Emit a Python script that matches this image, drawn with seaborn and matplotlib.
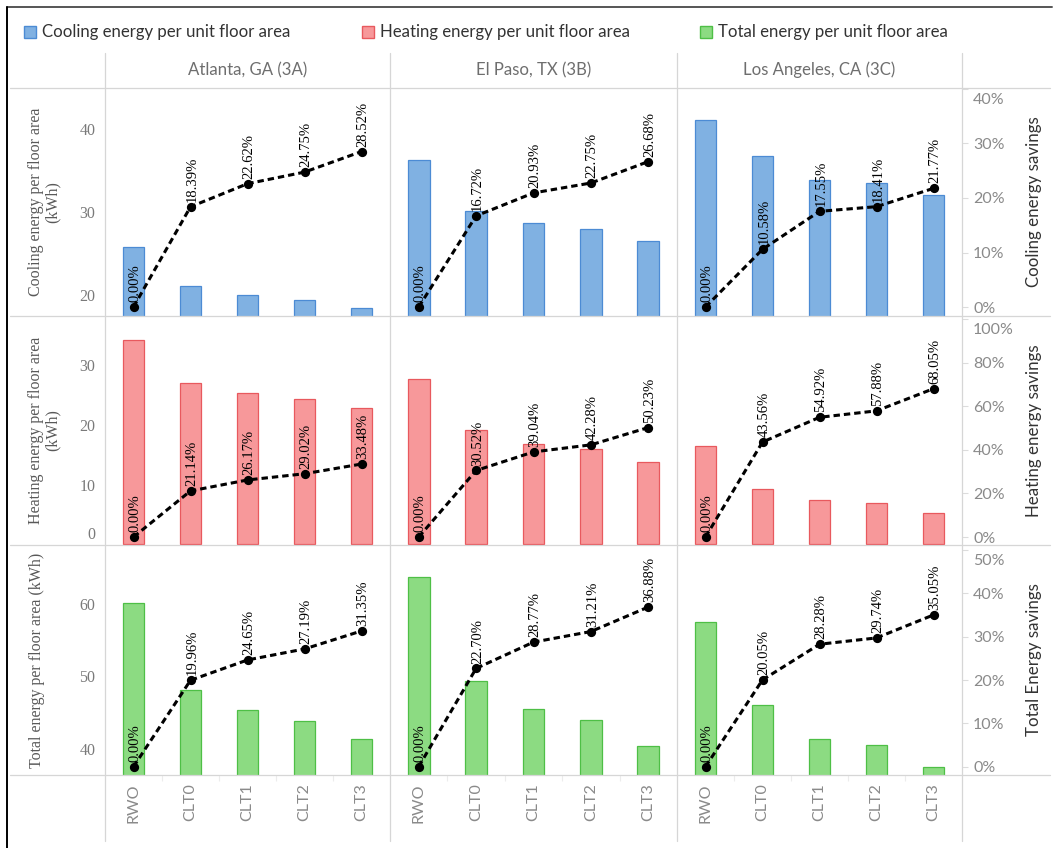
import numpy as np
import pandas as pd
import matplotlib
matplotlib.use("Agg")
import matplotlib.pyplot as plt
from matplotlib.lines import Line2D
from matplotlib.patches import Rectangle
from matplotlib.ticker import FuncFormatter
import seaborn as sns

# ---------------------------------------------------------------- data
designs = ["RWO", "CLT0", "CLT1", "CLT2", "CLT3"]
cities = ["Atlanta, GA (3A)", "El Paso, TX (3B)", "Los Angeles, CA (3C)"]

# energy use per unit floor area (kWh)
cooling_atlanta = [25.80, 21.06, 19.96, 19.41, 18.44]
cooling_elpaso = [36.18, 30.13, 28.61, 27.95, 26.53]
cooling_la = [41.00, 36.66, 33.80, 33.45, 32.07]
heating_atlanta = [34.33, 27.07, 25.35, 24.37, 22.84]
heating_elpaso = [27.67, 19.22, 16.87, 15.97, 13.77]
heating_la = [16.45, 9.28, 7.42, 6.93, 5.26]
total_atlanta = [60.20, 48.18, 45.36, 43.83, 41.33]
total_elpaso = [63.86, 49.36, 45.49, 43.93, 40.31]
total_la = [57.60, 46.05, 41.31, 40.47, 37.41]

# savings relative to the RWO baseline (%)
cooling_savings_atlanta = [0.00, 18.39, 22.62, 24.75, 28.52]
cooling_savings_elpaso = [0.00, 16.72, 20.93, 22.75, 26.68]
cooling_savings_la = [0.00, 10.58, 17.55, 18.41, 21.77]
heating_savings_atlanta = [0.00, 21.14, 26.17, 29.02, 33.48]
heating_savings_elpaso = [0.00, 30.52, 39.04, 42.28, 50.23]
heating_savings_la = [0.00, 43.56, 54.92, 57.88, 68.05]
total_savings_atlanta = [0.00, 19.96, 24.65, 27.19, 31.35]
total_savings_elpaso = [0.00, 22.70, 28.77, 31.21, 36.88]
total_savings_la = [0.00, 20.05, 28.28, 29.74, 35.05]

legend_labels = ["Cooling energy per unit floor area",
                 "Heating energy per unit floor area",
                 "Total energy per unit floor area"]
left_titles = ["Cooling energy per floor area\n(kWh)",
               "Heating energy per floor area\n(kWh)",
               "Total energy per floor area (kWh)"]
right_titles = ["Cooling energy savings", "Heating energy savings",
                "Total Energy savings"]
left_ticks = [[20, 30, 40], [0, 10, 20, 30], [40, 50, 60]]
right_ticks = [[0, 10, 20, 30, 40], [0, 20, 40, 60, 80, 100],
               [0, 10, 20, 30, 40, 50]]

energy = [[cooling_atlanta, cooling_elpaso, cooling_la],
          [heating_atlanta, heating_elpaso, heating_la],
          [total_atlanta, total_elpaso, total_la]]
savings = [[cooling_savings_atlanta, cooling_savings_elpaso, cooling_savings_la],
           [heating_savings_atlanta, heating_savings_elpaso, heating_savings_la],
           [total_savings_atlanta, total_savings_elpaso, total_savings_la]]

# ---------------------------------------------------------------- style
sns.set_theme(style="white")
SANS = ["Lato", "DejaVu Sans"]
SERIF = ["Liberation Serif", "DejaVu Serif"]
plt.rcParams["font.family"] = SANS

fills = ["#80B1E2", "#F7989A", "#8CDB82"]
edges = ["#4C8BD4", "#E8595E", "#4EBF46"]
grid_c = "#d6d6d6"
left_tick_c = "#7a7a7a"
right_tick_c = "#8a8a8a"

W, H = 1053, 848
fig = plt.figure(figsize=(W / 100, H / 100), dpi=100)
fig.patch.set_facecolor("white")
renderer = fig.canvas.get_renderer()


def fx(px):
    return px / W


def fy(py):
    return 1 - py / H


def fit_length(txt, target_px):
    """Scale a text's font size so its long side spans target_px pixels."""
    bb = txt.get_window_extent(renderer)
    size = max(bb.width, bb.height)
    txt.set_fontsize(txt.get_fontsize() * target_px / size)
    return txt.get_fontsize()


col_edges = [105, 390, 677, 962]
row_edges = [88, 316, 545, 775]
left_lims = [(17.45, 44.9), (-0.15, 38.3), (36.32, 68.26)]
right_lims = [(-1.65, 40.18), (-3.67, 101.4), (-1.92, 51.2)]


def edge_side(value, lims, height_px):
    """Return 'top'/'bottom' when a tick sits too close to a panel edge."""
    lo, hi = lims
    px_from_top = (hi - value) / (hi - lo) * height_px
    px_from_bottom = (value - lo) / (hi - lo) * height_px
    if px_from_top < 8:
        return "top"
    if px_from_bottom < 2:
        return "bottom"
    return None


for r in range(3):
    for c in range(3):
        x0, x1 = col_edges[c], col_edges[c + 1]
        y0, y1 = row_edges[r], row_edges[r + 1]
        hpx = y1 - y0
        ax = fig.add_axes([fx(x0), fy(y1), (x1 - x0) / W, hpx / H])
        ax.set_facecolor("none")
        bars = pd.DataFrame({"design": designs, "value": energy[r][c]})
        sns.barplot(data=bars, x="design", y="value", ax=ax, color=fills[r],
                    saturation=1, width=0.38, edgecolor=edges[r],
                    linewidth=0.9, errorbar=None)

        ax2 = ax.twinx()
        line = pd.DataFrame({"design": designs, "saving": savings[r][c]})
        sns.pointplot(data=line, x="design", y="saving", ax=ax2, color="black",
                      linestyle="--", marker="o", markersize=5.0,
                      linewidth=2.2, errorbar=None)
        for ln in ax2.lines:
            ln.set_dashes([2.1, 1.3])
        for i, v in enumerate(savings[r][c]):
            ax2.annotate(f"{v:.2f}%", xy=(i, v), xytext=(1, 3.5),
                         textcoords="offset points", rotation=90,
                         ha="center", va="bottom", fontsize=10.5,
                         family=SERIF, color="black")

        ax.set_xlim(-0.5, 4.5)
        ax.set_ylim(*left_lims[r])
        ax2.set_ylim(*right_lims[r])
        for a in (ax, ax2):
            for s in a.spines.values():
                s.set_visible(False)
            a.set_xlabel("")
            a.set_ylabel("")

        # left value axis (first column only)
        lt = left_ticks[r]
        ax.set_yticks(lt)
        ax.tick_params(axis="y", length=0, pad=7)
        if c == 0:
            labels = []
            for t in lt:
                side = edge_side(t, left_lims[r], hpx)
                if side is None:
                    labels.append(str(t))
                else:
                    labels.append("")
                    ax.annotate(str(t), xy=(0, t),
                                xycoords=("axes fraction", "data"),
                                xytext=(-7, 0.5 if side == "bottom" else -3),
                                textcoords="offset points", ha="right",
                                va=side, family=SERIF, fontsize=11.5,
                                color=left_tick_c)
            ax.set_yticklabels(labels, family=SERIF, fontsize=11.5,
                               color=left_tick_c)
        else:
            ax.tick_params(axis="y", labelleft=False)

        # right savings axis (last column only)
        rt = right_ticks[r]
        ax2.set_yticks(rt)
        if c == 2:
            edge_ticks = {t: edge_side(t, right_lims[r], hpx) for t in rt}
            ax2.yaxis.set_major_formatter(FuncFormatter(
                lambda v, p, e=edge_ticks: "" if e.get(round(v)) else f"{v:.0f}%"))
            ax2.tick_params(axis="y", length=4, width=0.8, color="#dcdcdc",
                            pad=4, labelsize=11.5, labelcolor=right_tick_c)
            for t, side in edge_ticks.items():
                if side:
                    ax2.annotate(f"{t}%", xy=(1, t),
                                 xycoords=("axes fraction", "data"),
                                 xytext=(8, -3 if side == "top" else 0.5),
                                 textcoords="offset points", ha="left",
                                 va=side, fontsize=11.5, color=right_tick_c)
        else:
            ax2.tick_params(axis="y", length=0, labelright=False)

        ax.set_xticks(range(len(designs)))
        if r == 2:
            ax.set_xticklabels(designs, rotation=90, fontsize=11.5,
                               color=right_tick_c)
            ax.tick_params(axis="x", length=0, pad=6)
            ax.set_xticks([0.5, 1.5, 2.5, 3.5], minor=True)
            ax.tick_params(axis="x", which="minor", length=4, width=0.8,
                           color="#ececec", bottom=True)
        else:
            ax.tick_params(axis="x", length=0, labelbottom=False)

# ---------------------------------------------------------------- frame lines
for xp in col_edges:
    fig.add_artist(Line2D([fx(xp), fx(xp)], [fy(53), fy(841)],
                          color=grid_c, lw=0.9))
for yp in row_edges:
    fig.add_artist(Line2D([fx(10), fx(1050)], [fy(yp), fy(yp)],
                          color=grid_c, lw=0.9))
fig.add_artist(Line2D([fx(7), fx(1052)], [fy(7), fy(7)], color="#555555", lw=1.4))
fig.add_artist(Line2D([fx(7), fx(7)], [fy(7), fy(848)], color="black", lw=1.4))

# ---------------------------------------------------------------- texts
header_texts = []
for c, city in enumerate(cities):
    cx = (col_edges[c] + col_edges[c + 1]) / 2
    header_texts.append(fig.text(fx(cx), fy(70), city, ha="center",
                                 va="center", fontsize=11.5, color="#6e6e6e"))
hsize = fit_length(header_texts[0], 120)
for t in header_texts[1:]:
    t.set_fontsize(hsize)

right_texts = []
for r in range(3):
    cy = (row_edges[r] + row_edges[r + 1]) / 2
    two_line = "\n" in left_titles[r]
    fig.text(fx(44 if two_line else 37), fy(cy), left_titles[r], rotation=90,
             ha="center", va="center", multialignment="center", family=SERIF,
             fontsize=11.5, color="#595959", linespacing=1.05)
    right_texts.append(fig.text(fx(1034), fy(cy), right_titles[r],
                                rotation=90, ha="center", va="center",
                                fontsize=11.5, color="#333333"))
rsize = fit_length(right_texts[0], 170)
for t in right_texts[1:]:
    t.set_fontsize(rsize)

# legend row: colour swatch followed by its label
legend_patch_x = [24, 362, 700]
legend_texts = []
for i, lab in enumerate(legend_labels):
    px = legend_patch_x[i]
    fig.add_artist(Rectangle((fx(px), fy(38)), 12 / W, 12 / H,
                             facecolor=fills[i], edgecolor=edges[i],
                             linewidth=1.0, transform=fig.transFigure))
    legend_texts.append(fig.text(fx(px + 18), fy(32), lab, ha="left",
                                 va="center", fontsize=11, color="#333333"))
lsize = fit_length(legend_texts[0], 248)
for t in legend_texts[1:]:
    t.set_fontsize(lsize)

fig.savefig("out.png", dpi=100, facecolor="white")
